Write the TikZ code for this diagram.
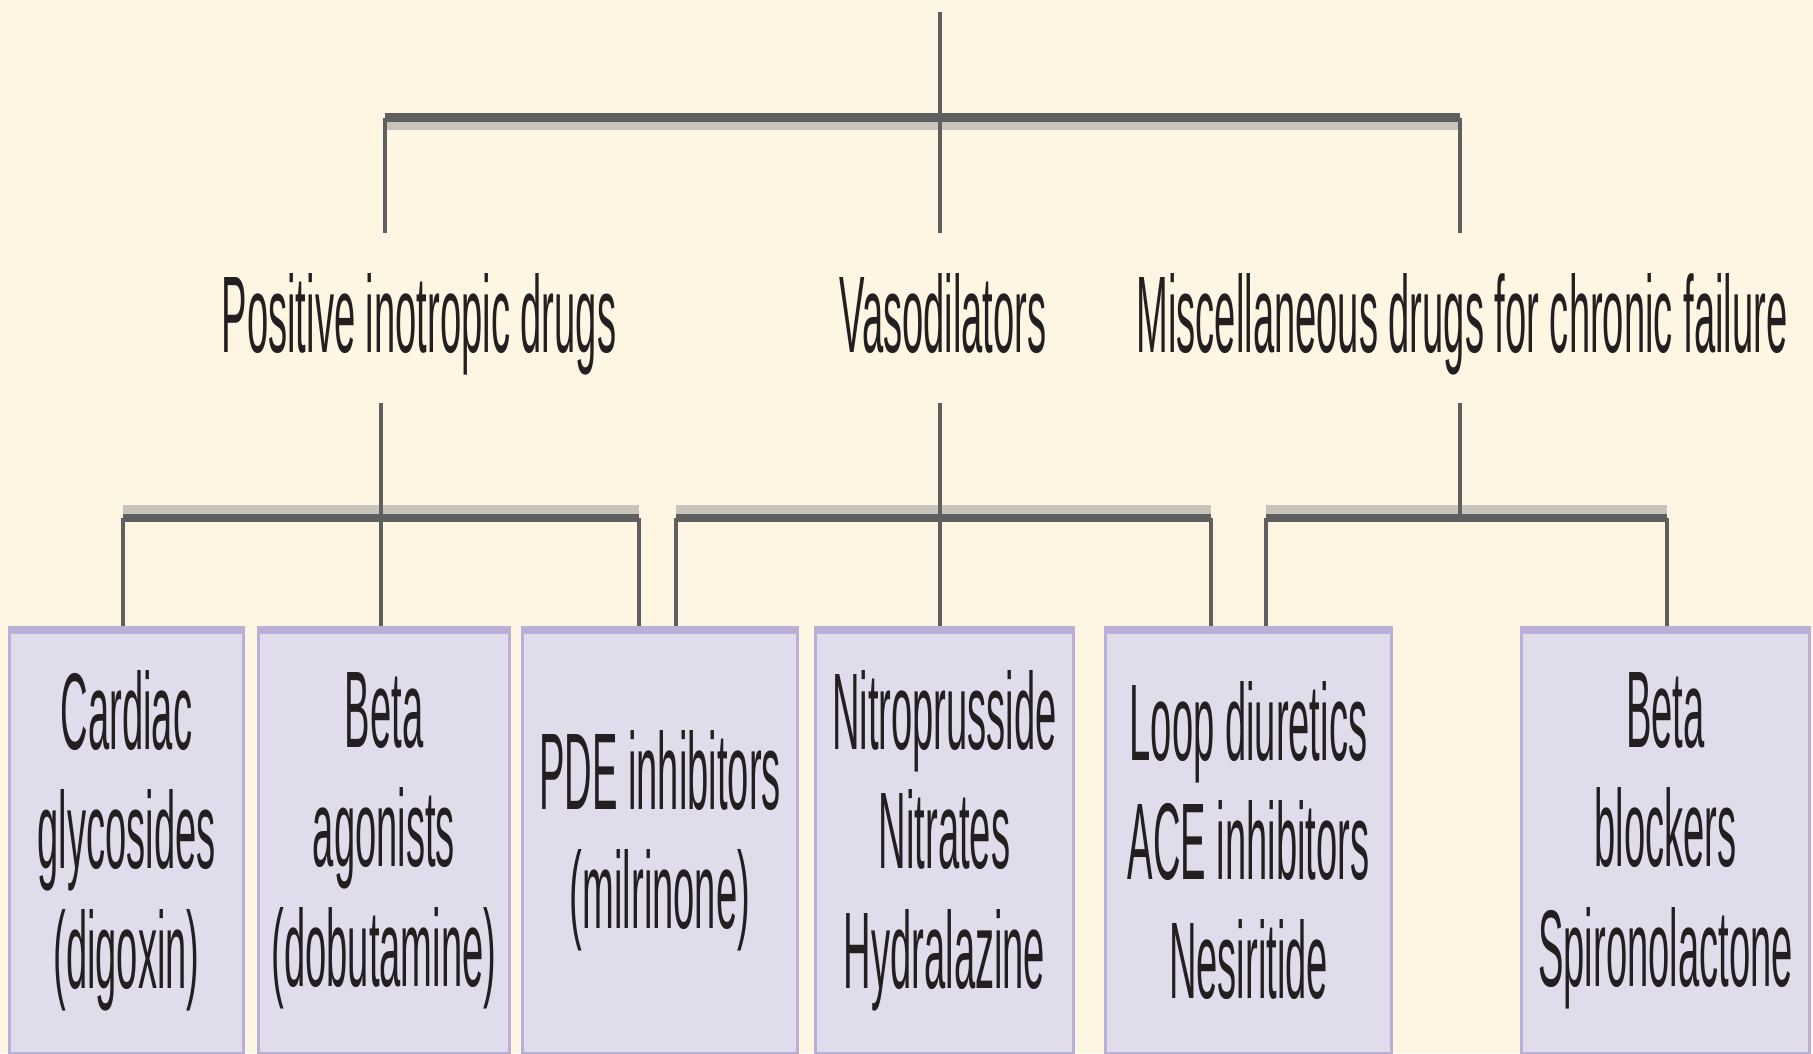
\documentclass[tikz,border=0pt]{standalone}
\usepackage{fontspec}
\newfontfamily\condsans[FakeStretch=0.35]{Liberation Sans}
\newcommand{\drugfont}{\condsans\fontsize{31}{33.9}\selectfont}
\usetikzlibrary{positioning}
\definecolor{paper}{HTML}{FEF5E3}
\definecolor{boxfill}{HTML}{E0DCEC}
\definecolor{boxedge}{HTML}{BAAFD6}
\definecolor{stem}{HTML}{5F5F5F}
\definecolor{ghost}{HTML}{C9C4BB}
\definecolor{ink}{HTML}{231F20}

\begin{document}
\begin{tikzpicture}[x=0.01cm,y=-0.01cm,text=ink,
  head/.style={font=\drugfont,anchor=base,inner sep=0pt},
  drug/.style={draw=boxedge,fill=boxfill,line width=0.85pt,minimum width=#1,
    minimum height=4.26cm,align=center,font=\drugfont,anchor=north,inner sep=0pt}]
\useasboundingbox[fill=paper] (0,0) rectangle (1813,1053);

% class labels
\node[head] (inotropic) at (419,352) {Positive inotropic drugs};
\node[head] (vaso)      at (943,352) {Vasodilators};
\node[head] (misc)      at (1462,352) {Miscellaneous drugs for chronic failure};

% tree joints
\coordinate (root) at (940,12);
\coordinate (tL) at (385,117.5);
\coordinate (tM) at (940,117.5);
\coordinate (tR) at (1460,117.5);
\coordinate (hA) at (385,233);
\coordinate (hB) at (940,233);
\coordinate (hC) at (1460,233);
\coordinate (sA) at (381,403);
\coordinate (sB) at (940,403);
\coordinate (sC) at (1460,403);
\coordinate (bA1) at (123,518);
\coordinate (bA2) at (381,518);
\coordinate (bA3) at (639,518);
\coordinate (bB1) at (676,518);
\coordinate (bB2) at (940,518);
\coordinate (bB3) at (1211,518);
\coordinate (bC1) at (1266,518);
\coordinate (bC2) at (1460,518);
\coordinate (bC3) at (1667,518);

\tikzset{bar/.style={draw=stem,line width=2.5pt}}
\tikzset{ghostbar/.style={draw=ghost,line width=2.3pt}}
\tikzset{link/.style={draw=stem,line width=1pt}}

% misprint shadow under the bars
\draw[ghostbar] ([shift={(0,8.5)}]tL) -- ([shift={(0,8.5)}]tR);
\draw[ghostbar] ([shift={(0,-8.5)}]bA1) -- ([shift={(0,-8.5)}]bA3);
\draw[ghostbar] ([shift={(0,-8.5)}]bB1) -- ([shift={(0,-8.5)}]bB3);
\draw[ghostbar] ([shift={(0,-8.5)}]bC1) -- ([shift={(0,-8.5)}]bC3);

% drug boxes
\node[drug=2.33cm] (glyco)  at (126.5,626) {Cardiac\\glycosides\\(digoxin)};
\node[drug=2.50cm] (betaag) at (384,626)   {Beta\\agonists\\(dobutamine)};
\node[drug=2.74cm] (pde)    at (660,626)   {PDE inhibitors\\(milrinone)};
\node[drug=2.57cm] (nitro)  at (944.5,626) {Nitroprusside\\Nitrates\\Hydralazine};
\node[drug=2.85cm] (loop)   at (1248.5,626) {Loop diuretics\\ACE inhibitors\\Nesiritide};
\node[drug=2.87cm] (betabl) at (1665.5,626) {Beta\\blockers\\Spironolactone};
\foreach \b in {glyco,betaag,pde,nitro,loop,betabl}
  \fill[boxedge] (\b.north west) rectangle ([yshift=-0.08cm]\b.north east);

% top level
\path (root) edge[link] (hB)
      (tL)   edge[link] (hA)
      (tR)   edge[link] (hC);
\draw[bar] (tL) -- (tR);

% second level
\path (sA) edge[link] (bA2)
      (sB) edge[link] (bB2)
      (sC) edge[link] (bC2);
\draw[bar] (bA1) -- (bA3);
\draw[bar] (bB1) -- (bB3);
\draw[bar] (bC1) -- (bC3);

% down to the boxes
\path (bA1) edge[link] (bA1 |- glyco.north)
      (bA2) edge[link] (bA2 |- betaag.north)
      (bA3) edge[link] (bA3 |- pde.north)
      (bB1) edge[link] (bB1 |- pde.north)
      (bB2) edge[link] (bB2 |- nitro.north)
      (bB3) edge[link] (bB3 |- loop.north)
      (bC1) edge[link] (bC1 |- loop.north)
      (bC3) edge[link] (bC3 |- betabl.north);
\end{tikzpicture}
\end{document}
